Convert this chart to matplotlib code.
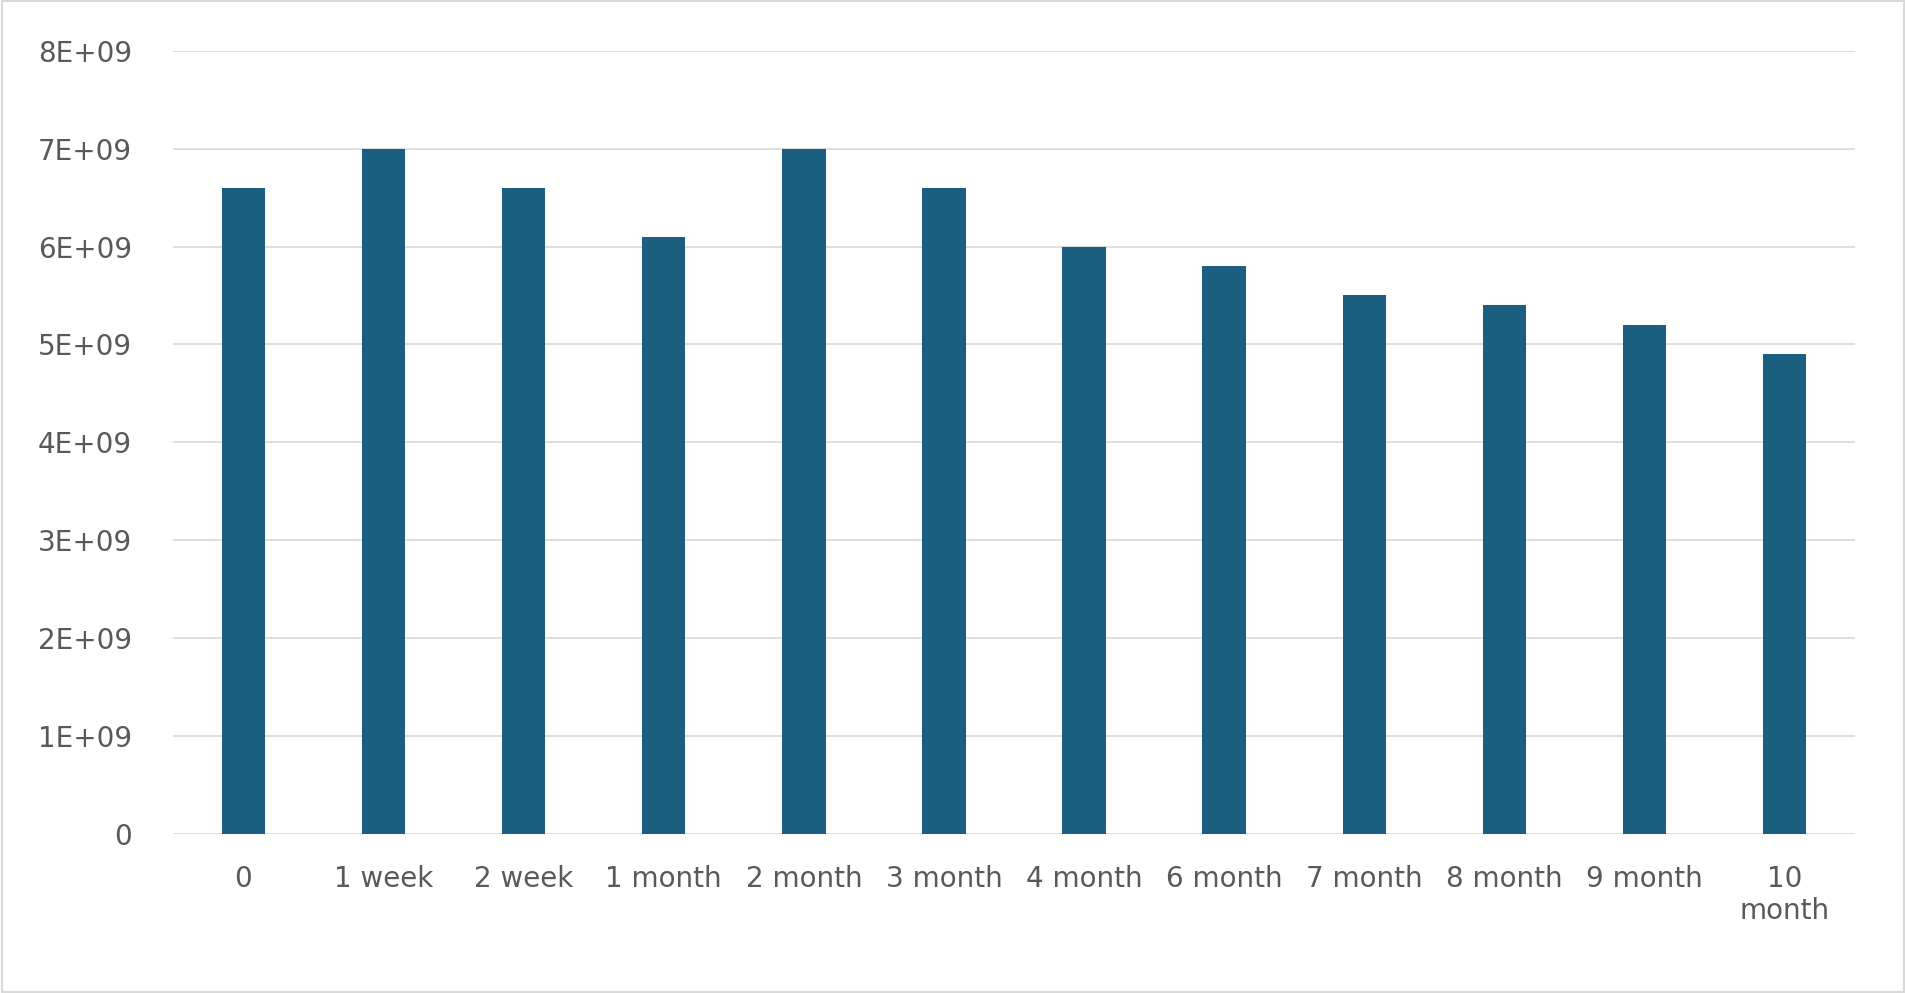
import matplotlib
matplotlib.use("Agg")
import matplotlib.pyplot as plt
from matplotlib.ticker import FuncFormatter

categories = ["0", "1 week", "2 week", "1 month", "2 month", "3 month", "4 month",
              "6 month", "7 month", "8 month", "9 month", "10\nmonth"]
values = [6.6e9, 7.0e9, 6.6e9, 6.1e9, 7.0e9, 6.6e9, 6.0e9, 5.8e9, 5.5e9, 5.4e9, 5.2e9, 4.9e9]

fig = plt.figure(figsize=(19.06, 9.93), dpi=100)
ax = fig.add_axes([0.091, 0.160, 0.882, 0.789])
x = range(len(categories))
ax.bar(x, values, width=0.31, color="#1a5f80", zorder=3)
ax.set_xlim(-0.5, len(categories) - 0.5)
ax.set_ylim(0, 8e9)
ax.set_yticks([i * 1e9 for i in range(9)])
ax.yaxis.set_major_formatter(FuncFormatter(lambda v, p: "0" if v == 0 else f"{int(round(v/1e9))}E+09"))
ax.set_xticks(list(x))
ax.set_xticklabels(categories)
ax.grid(axis="y", color="#d9d9d9", linewidth=1.2, zorder=0)
for s in ax.spines.values():
    s.set_visible(False)
ax.tick_params(length=0, labelsize=20, labelcolor="#595959")
ax.tick_params(axis="x", pad=22)
ax.tick_params(axis="y", pad=30)
fig.patches.append(plt.Rectangle((0.001, 0.001), 0.998, 0.998, transform=fig.transFigure,
                                 fill=False, edgecolor="#d9d9d9", linewidth=1.5))
fig.savefig("out.png", dpi=100)
